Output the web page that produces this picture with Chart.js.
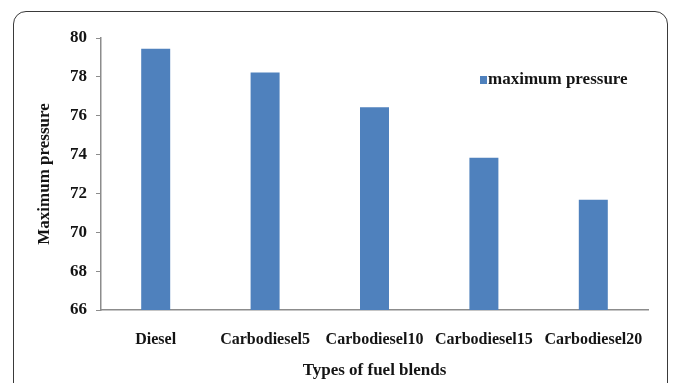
<!DOCTYPE html>
<html>
<head>
<meta charset="utf-8">
<script src="https://cdn.jsdelivr.net/npm/chart.js@4/dist/chart.umd.min.js"></script>
<style>
  html, body { margin: 0; padding: 0; background: #fff; }
  #wrap { position: relative; width: 673px; height: 383px; overflow: hidden; }
  #frame {
    position: absolute; left: 13px; top: 11px; width: 655px; height: 420px;
    border: 1.5px solid #3a3a3a; border-radius: 13px; box-sizing: border-box;
  }
  canvas { position: absolute; left: 0; top: 0; }
</style>
</head>
<body>
<div id="wrap">
  <div id="frame"></div>
  <canvas id="c" width="673" height="383"></canvas>
</div>
<script>
// Fuel blends and their peak cylinder pressure
const categories = ['Diesel', 'Carbodiesel5', 'Carbodiesel10', 'Carbodiesel15', 'Carbodiesel20'];
const maxPressure = [79.45, 78.23, 76.43, 73.84, 71.67];
const seriesName = 'maximum pressure';
const yTicks = { min: 66, max: 80, step: 2 };

const serif = '"Liberation Serif", "Times New Roman", serif';
const ink = '#141414';
const barColor = '#4f81bd';

// legend entry drawn inside the plot area, top right
const innerLegend = {
  id: 'innerLegend',
  afterDraw(chart) {
    const ctx = chart.ctx;
    const ds = chart.data.datasets[0];
    const x = chart.chartArea.right - 168;
    const y = chart.chartArea.top + 42;
    ctx.save();
    ctx.fillStyle = ds.backgroundColor;
    ctx.fillRect(x, y - 4, 7, 8);
    ctx.fillStyle = ink;
    ctx.font = 'bold 17px ' + serif;
    ctx.textBaseline = 'middle';
    ctx.textAlign = 'left';
    ctx.fillText(ds.label, x + 8, y);
    ctx.restore();
  }
};

new Chart(document.getElementById('c'), {
  type: 'bar',
  data: {
    labels: categories,
    datasets: [{
      label: seriesName,
      data: maxPressure,
      backgroundColor: barColor,
      borderWidth: 0,
      categoryPercentage: 1,
      barPercentage: 0.265
    }]
  },
  options: {
    responsive: false,
    animation: false,
    devicePixelRatio: 1,
    layout: { padding: { left: 32, right: 25, top: 38, bottom: 0 } },
    plugins: { legend: { display: false }, tooltip: { enabled: false } },
    scales: {
      x: {
        afterFit(s) { s.height = 73; },
        grid: { display: false, drawTicks: false },
        border: { display: true, color: '#8c8c8c', width: 1.5 },
        ticks: {
          padding: 20, color: ink, maxRotation: 0, autoSkip: false,
          font: { family: serif, size: 16, weight: 'bold' }
        },
        title: {
          display: true, text: 'Types of fuel blends', color: ink,
          font: { family: serif, size: 17, weight: 'bold' },
          padding: { top: 4, bottom: 2 }
        }
      },
      y: {
        min: yTicks.min, max: yTicks.max,
        afterFit(s) { s.width = 69; },
        grid: { drawOnChartArea: false, drawTicks: true, tickLength: 5, color: '#8c8c8c' },
        border: { display: true, color: '#8c8c8c', width: 1.5 },
        ticks: {
          stepSize: yTicks.step, padding: 9, color: ink,
          font: { family: serif, size: 17, weight: 'bold' }
        },
        title: {
          display: true, text: 'Maximum pressure', color: ink,
          font: { family: serif, size: 17, weight: 'bold' },
          padding: { top: 2, bottom: 0 }
        }
      }
    }
  },
  plugins: [innerLegend]
});
</script>
</body>
</html>
